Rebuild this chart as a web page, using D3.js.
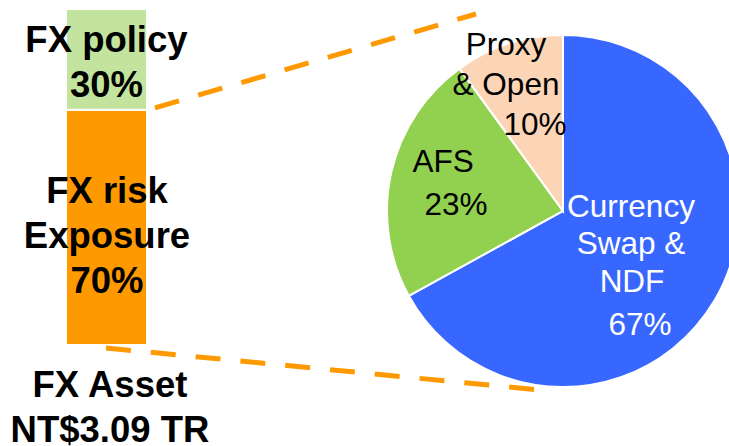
<!DOCTYPE html>
<html>
<head>
<meta charset="utf-8">
<script src="https://cdn.jsdelivr.net/npm/d3@7"></script>
<style>
    body { margin: 0; background: #fff; }
    text { font-family: "Liberation Sans", Arial, sans-serif; }
</style>
</head>
<body>
<script>
const width = 729;
const height = 446;

// bar: share of FX asset
const barParts = ['FX risk Exposure', 'FX policy'];
const barValues = [70, 30];
const barColors = ['#ff9900', '#c3e49e'];

// pie: breakdown of the FX risk exposure
const pieParts = ['Currency Swap & NDF', 'AFS', 'Proxy & Open'];
const pieValues = [67, 23, 10];
const pieColors = ['#3867ff', '#92d050', '#fbd5b6'];

const svg = d3.select('body')
    .append('svg')
    .attr('width', width)
    .attr('height', height);

// ---- stacked bar
const barX = 66;
const barW = 81;
const y = d3.scaleLinear()
    .domain([0, d3.sum(barValues)])
    .range([345, 9]);

let acc = 0;
const stacks = barValues.map((v, i) => {
    const s = { y0: acc, y1: acc + v, color: barColors[i] };
    acc += v;
    return s;
});

svg.selectAll('rect.bar')
    .data(stacks)
    .join('rect')
    .attr('class', 'bar')
    .attr('x', barX)
    .attr('width', barW)
    .attr('y', d => y(d.y1))
    .attr('height', d => y(d.y0) - y(d.y1))
    .attr('fill', d => d.color)
    .attr('stroke', '#fff')
    .attr('stroke-width', 2);

// ---- pie
const cx = 563;
const cy = 211;
const r = 176;

const pie = d3.pie().sort(null).value(d => d.value);
const arc = d3.arc().innerRadius(0).outerRadius(r);
const slices = pie(pieParts.map((p, i) => ({ name: p, value: pieValues[i], color: pieColors[i] })));

const pieG = svg.append('g')
    .attr('transform', `translate(${cx},${cy})`);

pieG.selectAll('path')
    .data(slices)
    .join('path')
    .attr('d', arc)
    .attr('fill', d => d.data.color)
    .attr('stroke', '#fff')
    .attr('stroke-width', 2);

// ---- dashed connectors from the exposure part to the pie
const split = y(stacks[0].y1);
const connectors = [
    [[barX + barW + 8, split - 2], [cx - 87, cy - r - 21]],
    [[barX + 40, y(0) + 3], [cx - 13, cy + r + 4]]
];

svg.selectAll('line.conn')
    .data(connectors)
    .join('line')
    .attr('class', 'conn')
    .attr('x1', d => d[0][0])
    .attr('y1', d => d[0][1])
    .attr('x2', d => d[1][0])
    .attr('y2', d => d[1][1])
    .attr('stroke', '#ff9900')
    .attr('stroke-width', 5)
    .attr('stroke-dasharray', '25,20');

// ---- bar labels
const barLabels = [
    { lines: ['FX policy', `${barValues[1]}%`], x: 106.5, y: 52 },
    { lines: ['FX risk', 'Exposure', `${barValues[0]}%`], x: 107, y: 203 },
    { lines: ['FX Asset', 'NT$3.09 TR'], x: 110, y: 397 }
];

barLabels.forEach(l => {
    svg.append('text')
        .attr('x', l.x)
        .attr('y', l.y)
        .attr('text-anchor', 'middle')
        .attr('font-size', 36.5)
        .attr('font-weight', 'bold')
        .attr('fill', '#000')
        .selectAll('tspan')
        .data(l.lines)
        .join('tspan')
        .attr('x', l.x)
        .attr('dy', (d, i) => i ? 45 : 0)
        .text(d => d);
});

// ---- pie labels (offsets from pie centre)
const pieLabels = [
    { lines: [['Currency', 68, 6], ['Swap &', 68, 43], ['NDF', 69, 81], [`${pieValues[0]}%`, 77, 124]], fill: '#fff' },
    { lines: [['AFS', -120, -39], [`${pieValues[1]}%`, -107, 4]], fill: '#000' },
    { lines: [['Proxy', -57, -156], ['& Open', -57, -116], [`${pieValues[2]}%`, -28, -76]], fill: '#000' }
];

pieLabels.forEach(l => {
    pieG.append('g')
        .selectAll('text')
        .data(l.lines)
        .join('text')
        .attr('x', d => d[1])
        .attr('y', d => d[2])
        .attr('text-anchor', 'middle')
        .attr('font-size', 31.5)
        .attr('fill', l.fill)
        .text(d => d[0]);
});
</script>
</body>
</html>
